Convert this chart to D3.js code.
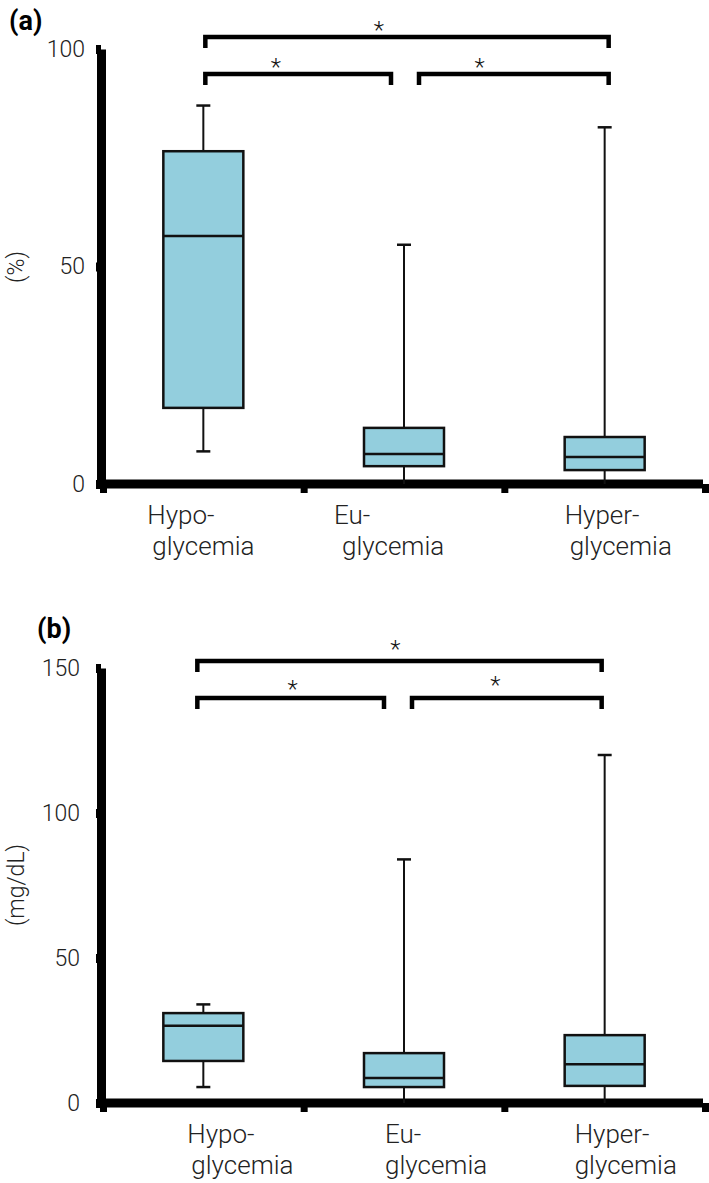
<!DOCTYPE html>
<html>
<head>
<meta charset="utf-8">
<script src="https://cdnjs.cloudflare.com/ajax/libs/d3/7.8.5/d3.min.js"></script>
<style>
  body { margin: 0; background: #fff; }
  text { font-family: Roboto, "Open Sans", sans-serif; }
</style>
</head>
<body>
<div class="chart"></div>
<script>
// categories
const groups = ["Hypo", "Eu", "Hyper"]
const labelTop = ["Hypo-", "Eu-", "Hyper-"]
const labelBottom = ["glycemia", "glycemia", "glycemia"]

// panel (a), percent
const pctTicks = [0, 50, 100]
const pctMin = [7.5, 0, 0]
const pctQ1 = [17.5, 4.1, 3.2]
const pctMed = [57, 6.9, 6.2]
const pctQ3 = [76.5, 12.9, 10.8]
const pctMax = [87, 55, 82]

// panel (b), mg/dL
const mgTicks = [0, 50, 100, 150]
const mgMin = [5.5, 0, 0]
const mgQ1 = [14.5, 5.5, 5.9]
const mgMed = [26.6, 8.6, 13.4]
const mgQ3 = [31, 17.2, 23.4]
const mgMax = [34, 84, 120]

// significance comparisons
const pairs = [[0, 2], [0, 1], [1, 2]]
const pairMarks = ["*", "*", "*"]

const W = 709, H = 1183

const svg = d3.select(".chart")
  .append("svg")
  .attr("width", W)
  .attr("height", H)

function drawPanel(cfg) {
  const g = svg.append("g")

  const yScale = d3.scaleLinear()
    .domain([0, cfg.yMax])
    .range([cfg.y0, cfg.yTop])

  const xBand = d3.scaleBand()
    .domain(groups)
    .range([103, 705])
  const cx = i => xBand(groups[i]) + xBand.bandwidth() / 2

  // y axis
  const yAxis = d3.axisLeft(yScale)
    .tickValues(cfg.ticks)
    .tickSize(5)
    .tickSizeOuter(0)
    .tickPadding(cfg.tickPad)
  const ya = g.append("g")
    .attr("transform", "translate(101,0)")
    .call(yAxis)
  ya.select(".domain").attr("stroke", "#000").attr("stroke-width", 9)
  ya.selectAll(".tick line").attr("stroke", "#000").attr("stroke-width", 9)
  ya.selectAll(".tick text")
    .attr("fill", "#222")
    .style("font-family", "Roboto, sans-serif")
    .style("font-size", "23px")
    .style("font-weight", 300)

  // x axis (band boundaries as ticks)
  const xTick = d3.scaleLinear().domain([0, 3]).range([103, 705])
  const xAxis = d3.axisBottom(xTick)
    .tickValues([0, 1, 2, 3])
    .tickSize(9)
    .tickSizeOuter(0)
    .tickFormat("")
  const xa = g.append("g")
    .attr("transform", "translate(0," + cfg.y0 + ")")
    .call(xAxis)
  xa.select(".domain")
    .attr("d", "M97,0H703")
    .attr("stroke", "#000").attr("stroke-width", 9)
  xa.selectAll(".tick line").attr("stroke", "#000").attr("stroke-width", 7)

  // category labels, two lines each
  g.selectAll(".cat1")
    .data(groups)
    .enter()
    .append("text")
    .attr("x", (d, i) => cx(i) + cfg.labDx1[i])
    .attr("y", cfg.y0 + 40)
    .attr("fill", "#222")
    .style("font-size", "26px")
    .style("font-weight", 300)
    .text((d, i) => labelTop[i])
  g.selectAll(".cat2")
    .data(groups)
    .enter()
    .append("text")
    .attr("x", (d, i) => cx(i) + cfg.labDx2[i])
    .attr("y", cfg.y0 + 71)
    .attr("fill", "#222")
    .style("font-size", "26px")
    .style("font-weight", 300)
    .text((d, i) => labelBottom[i])

  const boxW = 80, capW = 14

  // whiskers
  g.selectAll(".whisker")
    .data(groups)
    .enter()
    .append("line")
    .attr("x1", (d, i) => cx(i))
    .attr("x2", (d, i) => cx(i))
    .attr("y1", (d, i) => yScale(cfg.max[i]))
    .attr("y2", (d, i) => yScale(cfg.min[i]))
    .attr("stroke", "#111")
    .attr("stroke-width", 2)

  // caps (only where whisker ends above the axis)
  const caps = []
  groups.forEach((d, i) => {
    caps.push({ i: i, v: cfg.max[i] })
    caps.push({ i: i, v: cfg.min[i] })
  })
  g.selectAll(".cap")
    .data(caps.filter(c => c.v > 0))
    .enter()
    .append("line")
    .attr("x1", c => cx(c.i) - capW / 2)
    .attr("x2", c => cx(c.i) + capW / 2)
    .attr("y1", c => yScale(c.v))
    .attr("y2", c => yScale(c.v))
    .attr("stroke", "#111")
    .attr("stroke-width", 2.5)

  // boxes
  g.selectAll(".box")
    .data(groups)
    .enter()
    .append("rect")
    .attr("x", (d, i) => cx(i) - boxW / 2)
    .attr("y", (d, i) => yScale(cfg.q3[i]))
    .attr("width", boxW)
    .attr("height", (d, i) => yScale(cfg.q1[i]) - yScale(cfg.q3[i]))
    .attr("fill", "#93cedd")
    .attr("stroke", "#111")
    .attr("stroke-width", 2.5)

  // medians
  g.selectAll(".median")
    .data(groups)
    .enter()
    .append("line")
    .attr("x1", (d, i) => cx(i) - boxW / 2)
    .attr("x2", (d, i) => cx(i) + boxW / 2)
    .attr("y1", (d, i) => yScale(cfg.med[i]))
    .attr("y2", (d, i) => yScale(cfg.med[i]))
    .attr("stroke", "#111")
    .attr("stroke-width", 2.5)

  // significance brackets
  pairs.forEach((p, k) => {
    const x1 = cx(p[0]) + cfg.brDx[k][0]
    const x2 = cx(p[1]) + cfg.brDx[k][1]
    const by = cfg.brY[k]
    g.append("path")
      .attr("d", "M" + x1 + "," + (by + 11) + "V" + by + "H" + x2 + "V" + (by + 11))
      .attr("fill", "none")
      .attr("stroke", "#000")
      .attr("stroke-width", 4.5)
    g.append("text")
      .attr("x", x1 + (x2 - x1) * cfg.starFrac[k])
      .attr("y", by - cfg.starUp[k] + 14)
      .attr("text-anchor", "middle")
      .attr("fill", "#111")
      .style("font-size", "24px")
      .style("font-weight", 300)
      .text(pairMarks[k])
  })

  // y label
  g.append("text")
    .attr("transform", "translate(24," + cfg.yLabelY + ") rotate(-90)")
    .attr("text-anchor", "middle")
    .attr("fill", "#222")
    .style("font-size", "23px")
    .style("font-weight", 300)
    .text(cfg.yLabel)

  // panel letter
  g.append("text")
    .attr("x", cfg.letterX)
    .attr("y", cfg.letterY)
    .attr("fill", "#000")
    .style("font-size", "27px")
    .style("font-weight", 700)
    .text(cfg.letter)
}

drawPanel({
  letter: "(a)", letterX: 9, letterY: 30,
  yLabel: "(%)", yLabelY: 267,
  yMax: 100, y0: 484, yTop: 49, ticks: pctTicks, tickPad: 11,
  min: pctMin, q1: pctQ1, med: pctMed, q3: pctQ3, max: pctMax,
  labDx1: [-56, -70, -40], labDx2: [-51, -62, -35],
  brY: [37, 74, 74],
  brDx: [[2, 4], [2, -13], [15, 4]],
  starFrac: [0.43, 0.38, 0.32], starUp: [13, 13, 13]
})

drawPanel({
  letter: "(b)", letterX: 37, letterY: 638,
  yLabel: "(mg/dL)", yLabelY: 885,
  yMax: 150, y0: 1103, yTop: 668, ticks: mgTicks, tickPad: 16,
  min: mgMin, q1: mgQ1, med: mgMed, q3: mgQ3, max: mgMax,
  labDx1: [-16, -19, -30], labDx2: [-12, -19, -30],
  brY: [661, 698, 698],
  brDx: [[-6, -3], [-6, -20], [8, -3]],
  starFrac: [0.49, 0.51, 0.44], starUp: [18, 15, 19]
})
</script>
</body>
</html>
